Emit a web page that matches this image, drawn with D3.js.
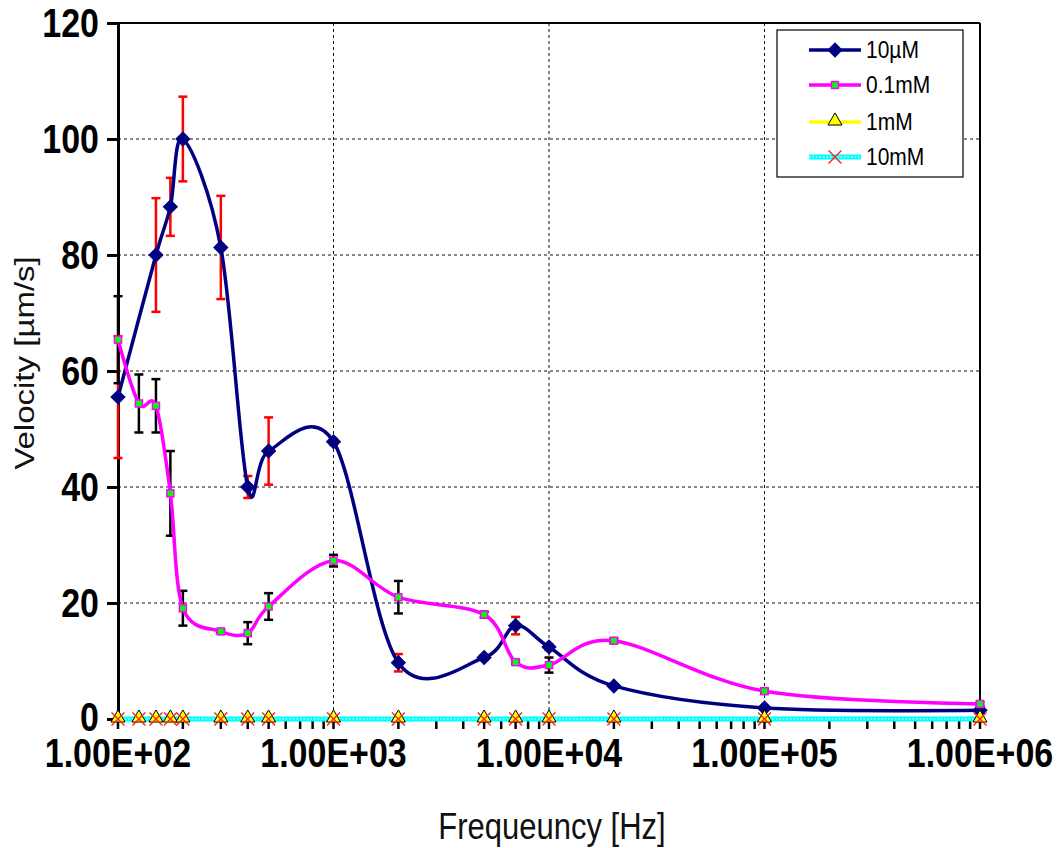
<!DOCTYPE html>
<html>
<head>
<meta charset="utf-8">
<script src="https://cdn.jsdelivr.net/npm/d3@7/dist/d3.min.js"></script>
<style>
  html, body { margin: 0; padding: 0; background: #ffffff; }
  svg { display: block; }
  text { font-family: "Liberation Sans", Arial, sans-serif; }
</style>
</head>
<body>
<svg id="chart" width="1064" height="848"></svg>
<script>
// Frequencies at which velocity was measured (Hz)
const freqs = [100, 125, 150, 175, 200, 300, 400, 500, 1000, 2000, 5000, 7000, 10000, 20000, 100000, 1000000];

// Mean velocity (µm/s) and error per concentration; null = not measured
const vel10uM = [55.5, null, 80.0, 88.3, 100.0, 81.3, 40.0, 46.2, 47.8, 9.7, 10.6, 16.1, 12.4, 5.7, 1.9, 1.5];
const err10uM = [10.5, null, 9.8, 5.0, 7.3, 8.9, 1.9, 5.8, 0.5, 1.5, 0.4, 1.5, 0.5, 0.3, 0.3, 0.3];
const vel01mM = [65.4, 54.4, 54.0, 38.9, 19.1, 15.1, 14.8, 19.4, 27.3, 21.0, 18.0, 9.8, 9.3, 13.5, 4.8, 2.6];
const err01mM = [7.5, 5.0, 4.6, 7.3, 3.0, 0.3, 1.9, 2.3, 1.0, 2.8, 0.5, 0.3, 1.3, 0.4, 0.4, 0.3];
const vel1mM  = [0, 0, 0, 0, 0, 0, 0, 0, 0, 0, 0, 0, 0, 0, 0, 0];
const vel10mM = [0, 0, 0, 0, 0, 0, 0, 0, 0, 0, 0, 0, 0, 0, 0, 0];

const seriesNames = ["10µM", "0.1mM", "1mM", "10mM"];
const yTicks = [0, 20, 40, 60, 80, 100, 120];
const xTicks = [1e2, 1e3, 1e4, 1e5, 1e6];
const xTickLabels = ["1.00E+02", "1.00E+03", "1.00E+04", "1.00E+05", "1.00E+06"];
const yTitle = "Velocity [µm/s]";
const xTitle = "Frequeuncy [Hz]";

const svg = d3.select("#chart");
const W = 1064, H = 848;
const plot = { left: 118, right: 980, top: 23, bottom: 719 };
const STRETCH = 1.18; // glyphs are drawn taller than wide

const x = d3.scaleLog().domain([100, 1e6]).range([plot.left, plot.right]);
const y = d3.scaleLinear().domain([0, 120]).range([plot.bottom, plot.top]);

svg.append("rect").attr("width", W).attr("height", H).attr("fill", "#fff");

// Dashed gridlines
const grid = svg.append("g");
grid.selectAll(".hg").data(yTicks.filter(v => v > 0 && v < 120)).join("line")
  .attr("x1", plot.left).attr("x2", plot.right)
  .attr("y1", d => y(d)).attr("y2", d => y(d))
  .attr("stroke", "#111").attr("stroke-width", 1).attr("stroke-dasharray", "3,3");
grid.selectAll(".vg").data(xTicks.filter(v => v > 100 && v < 1e6)).join("line")
  .attr("x1", d => x(d)).attr("x2", d => x(d))
  .attr("y1", plot.top).attr("y2", plot.bottom)
  .attr("stroke", "#111").attr("stroke-width", 1).attr("stroke-dasharray", "3,3");

// Plot frame (top and right)
svg.append("line").attr("x1", plot.left).attr("x2", plot.right).attr("y1", plot.top).attr("y2", plot.top)
  .attr("stroke", "#000").attr("stroke-width", 2);
svg.append("line").attr("x1", plot.right).attr("x2", plot.right).attr("y1", plot.top).attr("y2", plot.bottom)
  .attr("stroke", "#000").attr("stroke-width", 2);

// Y axis line and ticks
const yAxis = d3.axisLeft(y).tickValues(yTicks).tickSize(11).tickFormat(() => "");
const gy = svg.append("g").attr("transform", `translate(${plot.left},0)`).call(yAxis);
gy.select(".domain").attr("stroke", "#000").attr("stroke-width", 3);
gy.selectAll(".tick line").attr("stroke", "#000").attr("stroke-width", 3);
svg.append("g").selectAll("text").data(yTicks).join("text")
  .attr("transform", d => `translate(99,${y(d) + (d === 0 ? 12 : 14)}) scale(1,${STRETCH})`)
  .attr("text-anchor", "end").attr("font-size", 34).attr("font-weight", "bold").attr("fill", "#000")
  .text(d => d3.format("d")(d));

// X axis line, minor ticks at every 1..9 × decade, labels on decades
const minorTicks = [];
for (let e = 2; e <= 6; e++) for (let m = 1; m <= 9; m++) { const v = m * Math.pow(10, e); if (v <= 1e6) minorTicks.push(v); }
const gx = svg.append("g");
gx.append("line").attr("x1", plot.left).attr("x2", plot.right).attr("y1", plot.bottom).attr("y2", plot.bottom)
  .attr("stroke", "#000").attr("stroke-width", 3);
gx.selectAll(".mt").data(minorTicks).join("line")
  .attr("x1", d => x(d)).attr("x2", d => x(d))
  .attr("y1", plot.bottom).attr("y2", plot.bottom + 10)
  .attr("stroke", "#000").attr("stroke-width", 2.5);
svg.append("g").selectAll("text").data(xTicks).join("text")
  .attr("transform", d => `translate(${x(d)},767) scale(1,${STRETCH})`)
  .attr("text-anchor", "middle").attr("font-size", 34).attr("font-weight", "bold").attr("fill", "#000")
  .text((d, i) => xTickLabels[i]);

// Axis titles
svg.append("text").attr("transform", `translate(552,839) scale(1,${STRETCH})`).attr("text-anchor", "middle")
  .attr("font-size", 31).attr("fill", "#111").text(xTitle);
svg.append("text").attr("transform", `translate(34,363) rotate(-90) scale(${STRETCH},1)`).attr("text-anchor", "middle")
  .attr("font-size", 28).attr("fill", "#111").text(yTitle);

// Series definitions
const series = [
  { name: seriesNames[0], vals: vel10uM, errs: err10uM, color: "#000080", width: 3.5, errColor: "#ff0000", marker: "diamond" },
  { name: seriesNames[1], vals: vel01mM, errs: err01mM, color: "#ff00ff", width: 3.5, errColor: "#000000", marker: "square" },
  { name: seriesNames[2], vals: vel1mM, errs: null, color: "#ffff00", width: 3.5, marker: "triangle" },
  { name: seriesNames[3], vals: vel10mM, errs: null, color: "#00ffff", width: 5, marker: "x" }
];
series.forEach(s => {
  s.points = freqs.map((f, i) => ({ f, v: s.vals[i], e: s.errs ? s.errs[i] : null })).filter(p => p.v !== null);
});

const line = d3.line().x(d => x(d.f)).y(d => y(d.v)).curve(d3.curveCardinal.tension(0));

// Error bars
series.filter(s => s.errs).forEach(s => {
  const g = svg.append("g").attr("stroke", s.errColor).attr("stroke-width", 2.5);
  s.points.forEach(p => {
    if (!p.e) return;
    const cx = x(p.f), y1 = y(p.v + p.e), y0 = y(p.v - p.e);
    g.append("line").attr("x1", cx).attr("x2", cx).attr("y1", y1).attr("y2", y0);
    g.append("line").attr("x1", cx - 4.5).attr("x2", cx + 4.5).attr("y1", y1).attr("y2", y1);
    g.append("line").attr("x1", cx - 4.5).attr("x2", cx + 4.5).attr("y1", y0).attr("y2", y0);
  });
});

// Lines
series.forEach(s => {
  svg.append("path").datum(s.points).attr("d", line).attr("fill", "none")
    .attr("stroke", s.color).attr("stroke-width", s.width);
  if (s.marker === "x") {
    svg.append("path").datum(s.points).attr("d", line).attr("fill", "none")
      .attr("stroke", "#ffffff").attr("stroke-width", 1.2).attr("stroke-dasharray", "1.5,2");
  }
});

// Marker drawing
function drawMarker(g, type, cx, cy) {
  if (type === "diamond") {
    g.append("path").attr("d", d3.symbol().type(d3.symbolSquare).size(98)())
      .attr("transform", `translate(${cx},${cy}) rotate(45)`).attr("fill", "#000080").attr("stroke", "#000080").attr("stroke-width", 1);
  } else if (type === "square") {
    g.append("rect").attr("x", cx - 3.5).attr("y", cy - 3.5).attr("width", 7).attr("height", 7)
      .attr("fill", "#00ff00").attr("stroke", "#ff00ff").attr("stroke-width", 1.5);
  } else if (type === "triangle") {
    g.append("path").attr("d", d3.symbol().type(d3.symbolTriangle).size(85)())
      .attr("transform", `translate(${cx},${cy - 1})`).attr("fill", "#ffff00").attr("stroke", "#000").attr("stroke-width", 1);
  } else if (type === "x") {
    g.append("path").attr("d", d3.symbol().type(d3.symbolX).size(110)())
      .attr("transform", `translate(${cx},${cy})`).attr("fill", "none").attr("stroke", "#ff2020").attr("stroke-width", 1.4);
  }
}

const markers = svg.append("g");
series.forEach(s => {
  s.points.forEach(p => drawMarker(markers, s.marker, x(p.f), y(p.v)));
});

// Legend
const lg = svg.append("g");
lg.append("rect").attr("x", 777).attr("y", 30).attr("width", 186).attr("height", 147)
  .attr("fill", "#fff").attr("stroke", "#000").attr("stroke-width", 1.2);
const legendY = [50, 85, 122, 157];
series.forEach((s, i) => {
  const ly = legendY[i];
  lg.append("line").attr("x1", 809).attr("x2", 861).attr("y1", ly).attr("y2", ly)
    .attr("stroke", s.color).attr("stroke-width", s.width);
  if (s.marker === "x") {
    lg.append("line").attr("x1", 809).attr("x2", 861).attr("y1", ly).attr("y2", ly)
      .attr("stroke", "#fff").attr("stroke-width", 1.2).attr("stroke-dasharray", "1.5,2");
  }
  drawMarker(lg, s.marker, 835, ly);
  lg.append("text").attr("transform", `translate(866,${ly + 8}) scale(1,1.1)`)
    .attr("font-size", 21).attr("fill", "#000").text(s.name);
});
</script>
</body>
</html>
